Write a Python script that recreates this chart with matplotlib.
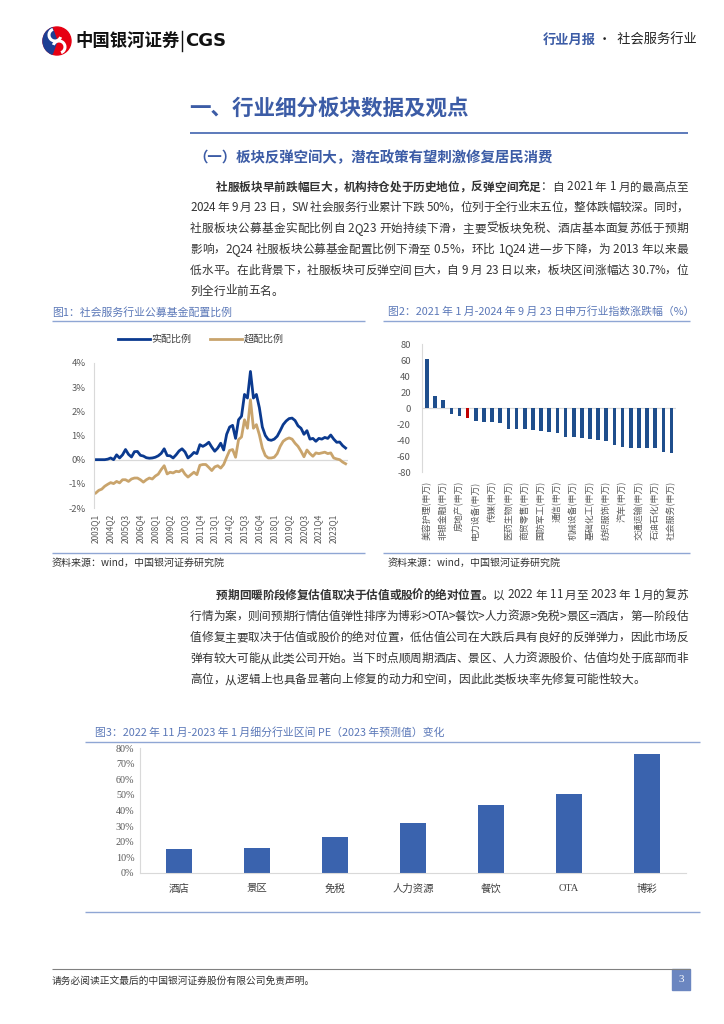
import matplotlib
matplotlib.use("Agg")
import matplotlib.pyplot as plt
from matplotlib.patches import Circle, Wedge, Rectangle, Arc

plt.rcParams['font.family'] = ['Noto Sans CJK SC', 'DejaVu Sans']
plt.rcParams['axes.unicode_minus'] = False

W, H = 724, 1024
BLUE = '#3c5ca6'
CAP = '#5b78b8'
RULE = '#8fa6d4'
TXT = '#333333'
GRAY_AX = '#d9d9d9'
TICK = '#595959'
CJK = ['Noto Sans CJK SC', 'DejaVu Sans']

# ---------- données ----------
# Figure 1 : ratios trimestriels 2003Q1 -> 2024Q1 (%)
shipei = [0.0, 0.0, 0.0, 0.0, 0.02, 0.07, 0.0, 0.2, 0.07, 0.2,
          0.42, 0.22, 0.11, 0.33, 0.34, 0.18, 0.15, 0.08, 0.06, 0.07,
          0.1, 0.16, 0.26, 0.45, 0.17, 0.16, 0.07, 0.2, 0.36, 0.45,
          0.32, 0.07, 0.17, 0.30, 0.25, 0.62, 0.55, 0.62, 0.72, 0.52,
          0.35, 0.48, 0.68, 0.40, 1.05, 1.35, 1.42, 0.88, 1.65, 1.80,
          2.70, 2.55, 3.65, 2.55, 2.70, 2.15, 1.35, 1.0, 0.83, 0.80,
          0.85, 0.97, 1.2, 1.45, 1.6, 1.7, 1.72, 1.62, 1.4, 1.3,
          1.05, 1.2, 0.85, 0.88, 0.76, 0.88, 0.85, 0.92, 0.88, 1.02,
          0.85, 0.72, 0.73, 0.58, 0.48]
chaopei = [-1.38, -1.27, -1.22, -1.1, -1.02, -0.95, -0.99, -0.9, -0.96, -0.83,
           -0.83, -0.9, -0.8, -0.76, -0.76, -0.83, -0.93, -0.83, -0.76, -0.8,
           -0.68, -0.6, -0.41, -0.25, -0.59, -0.52, -0.55, -0.48, -0.5, -0.41,
           -0.6, -0.72, -0.62, -0.52, -0.62, -0.23, -0.2, -0.2, -0.32, -0.45,
           -0.3, -0.25, -0.35, -0.2, 0.1, 0.38, 0.42, 0.1, 0.83, 0.94,
           1.65, 1.3, 2.48, 1.3, 1.45, 1.03, 0.48, 0.17, 0.07, 0.07,
           0.1, 0.25, 0.55, 0.76, 0.85, 0.9, 0.85, 0.68, 0.55, 0.35,
           0.12, 0.4, 0.25, 0.14, 0.28, 0.25, 0.28, 0.31, 0.25, 0.28,
           0.07, 0.03, 0.0, -0.1, -0.17]
quarter_labels = ["2003Q1", "2004Q2", "2005Q3", "2006Q4", "2008Q1", "2009Q2",
                  "2010Q3", "2011Q4", "2013Q1", "2014Q2", "2015Q3", "2016Q4",
                  "2018Q1", "2019Q2", "2020Q3", "2021Q4", "2023Q1"]

# Figure 2 : variation des indices SW (%)
industries = ["美容护理(申万)", "煤炭(申万)", "非银金融(申万)", "银行(申万)",
              "房地产(申万)", "有色金属(申万)", "电力设备(申万)", "公用事业(申万)",
              "传媒(申万)", "计算机(申万)", "医药生物(申万)", "电子(申万)",
              "商贸零售(申万)", "建筑装饰(申万)", "国防军工(申万)", "家用电器(申万)",
              "通信(申万)", "食品饮料(申万)", "机械设备(申万)", "钢铁(申万)",
              "基础化工(申万)", "环保(申万)", "纺织服饰(申万)", "轻工制造(申万)",
              "汽车(申万)", "农林牧渔(申万)", "交通运输(申万)", "建筑材料(申万)",
              "石油石化(申万)", "综合(申万)", "社会服务(申万)"]
zhangdiefu = [61, 14.5, 10.4, -7.5, -9.5, -12.4, -16.6, -17.8, -17.8, -18.7,
              -25.7, -26.1, -26.6, -27, -29, -30, -31.5, -35.7, -35.7, -37.8,
              -39, -40, -40.7, -46.5, -48.5, -49.8, -50.2, -50.2, -50.2, -54.8, -56]
highlight_idx = 5

# Figure 3 : variation du PE
secteurs = ["酒店", "景区", "免税", "人力资源", "餐饮", "OTA", "博彩"]
pe_change = [0.154, 0.159, 0.228, 0.322, 0.434, 0.506, 0.764]

# ---------- textes ----------
para1 = [
    [("社服板块早前跌幅巨大，机构持仓处于历史地位，反弹空间充足", True), ("：自 2021 年 1 月的最高点至", False)],
    [("2024 年 9 月 23 日，SW 社会服务行业累计下跌 50%，位列于全行业末五位，整体跌幅较深。同时，", False)],
    [("社服板块公募基金实配比例自 2Q23 开始持续下滑，主要受板块免税、酒店基本面复苏低于预期", False)],
    [("影响，2Q24 社服板块公募基金配置比例下滑至 0.5%，环比 1Q24 进一步下降，为 2013 年以来最", False)],
    [("低水平。在此背景下，社服板块可反弹空间巨大，自 9 月 23 日以来，板块区间涨幅达 30.7%，位", False)],
    [("列全行业前五名。", False)],
]
para2 = [
    [("预期回暖阶段修复估值取决于估值或股价的绝对位置。", True), ("以 2022 年 11 月至 2023 年 1 月的复苏", False)],
    [("行情为案，则间预期行情估值弹性排序为博彩>OTA>餐饮>人力资源>免税>景区=酒店，第一阶段估", False)],
    [("值修复主要取决于估值或股价的绝对位置，低估值公司在大跌后具有良好的反弹弹力，因此市场反", False)],
    [("弹有较大可能从此类公司开始。当下时点顺周期酒店、景区、人力资源股价、估值均处于底部而非", False)],
    [("高位，从逻辑上也具备显著向上修复的动力和空间，因此此类板块率先修复可能性较大。", False)],
]

fig = plt.figure(figsize=(W / 100, H / 100), dpi=100)
bg = fig.add_axes([0, 0, 1, 1])
bg.set_xlim(0, W)
bg.set_ylim(H, 0)
bg.axis('off')


def ax_at(x0, y0, x1, y1):
    return fig.add_axes([x0 / W, 1 - y1 / H, (x1 - x0) / W, (y1 - y0) / H])


def char_em(ch):
    o = ord(ch)
    if o >= 0x2E80:
        return 1.0
    table = {' ': 0.25, '%': 0.88, '.': 0.27, '-': 0.35, '>': 0.55, '=': 0.55,
             'W': 0.86, 'Q': 0.68, 'O': 0.68, 'S': 0.55, 'T': 0.55, 'A': 0.6}
    return table.get(ch, 0.55)


def draw_line(segs, x0, x1, y, size, justify=True, color=TXT):
    # placement caractère par caractère pour imiter le texte justifié
    chars = [(ch, b) for s, b in segs for ch in s]
    px = size * 100 / 72
    widths = [char_em(ch) * px for ch, b in chars]
    gap = 0
    if justify:
        gap = (x1 - x0 - sum(widths)) / (len(chars) - 1)
    x = x0
    for (ch, b), w in zip(chars, widths):
        if ch != ' ':
            bg.text(x, y, ch, family=CJK, size=size, weight='bold' if b else 'normal',
                    color=color, va='center', ha='left')
        x += w + gap


def hline(y, x0, x1, color=RULE, lw=1.0):
    bg.plot([x0, x1], [y, y], color=color, lw=lw, solid_capstyle='butt')


# ---------- en-tête ----------
bg.add_patch(Circle((57, 41), 14, color='#e60012'))
bg.add_patch(Wedge((57, 41), 14, 110, 250, color='#1d3f94'))
bg.add_patch(Arc((55, 35), 12, 12, theta1=20, theta2=250, color='white', lw=2.2))
bg.add_patch(Arc((59, 47), 12, 12, theta1=200, theta2=430, color='white', lw=2.2))
bg.text(75, 41, "中国银河证券", family=CJK, size=12.5, weight='bold', color='#111111', va='center')
bg.plot([182, 182], [31, 51], color='#111111', lw=1)
bg.text(185, 41, "CGS", family='DejaVu Sans', size=13, weight='bold', color='#111111', va='center')
bg.text(543, 40, "行业月报", family=CJK, size=9.5, weight='bold', color=BLUE, va='center')
bg.text(598, 40, "·  社会服务行业", family=CJK, size=9.5, color='#222222', va='center')

# ---------- titres ----------
bg.text(189, 108, "一、行业细分板块数据及观点", family=CJK, size=15.5, weight='bold', color=BLUE, va='center')
hline(133, 190, 688, color='#4f6fb5', lw=1.3)
bg.text(193, 158, "（一）板块反弹空间大，潜在政策有望刺激修复居民消费", family=CJK, size=10.4,
        weight='bold', color=BLUE, va='center')

for i, segs in enumerate(para1):
    y = 187 + i * 20.8
    x0 = 216 if i == 0 else 190
    draw_line(segs, x0, 688, y, 8.4, justify=(i < len(para1) - 1))

for i, segs in enumerate(para2):
    y = 595 + i * 21.2
    x0 = 216 if i == 0 else 190
    draw_line(segs, x0, 688, y, 8.4, justify=(i < len(para2) - 1))

# ---------- Figure 1 ----------
bg.text(52, 312, "图1：社会服务行业公募基金配置比例", family=CJK, size=7.8, color=CAP, va='center')
hline(321, 52, 365)
hline(553, 52, 365)
bg.text(52, 563, "资料来源：wind，中国银河证券研究院", family=CJK, size=7.2, style='italic',
        color='#333333', va='center')

ax1 = ax_at(94, 363, 348, 508)
xs = list(range(len(shipei)))
ax1.plot(xs, shipei, color='#0b3a8f', lw=2.0, label='实配比例')
ax1.plot(xs, chaopei, color='#c9a46c', lw=2.0, label='超配比例')
ax1.axhline(0, color=GRAY_AX, lw=0.9, zorder=0)
ax1.set_xlim(-0.6, 84.8)
ax1.set_ylim(-2, 4)
ax1.set_yticks(range(-2, 5))
ax1.set_yticklabels([f"{v}%" for v in range(-2, 5)])
ax1.set_xticks(range(0, 81, 5))
ax1.set_xticklabels(quarter_labels, rotation=90)
ax1.tick_params(axis='y', length=0, labelsize=6.8, labelcolor=TICK, pad=6)
ax1.tick_params(axis='x', length=0, labelsize=6.0, labelcolor=TICK, pad=4)
for s in ['top', 'right', 'bottom']:
    ax1.spines[s].set_visible(False)
ax1.spines['left'].set_color(GRAY_AX)
ax1.patch.set_alpha(0)
ax1.legend(ncol=2, loc='center', bbox_to_anchor=(0.42, 1.165), frameon=False,
           fontsize=7.2, handlelength=3.2, columnspacing=1.8, handletextpad=0.2,
           labelcolor='#404040')

# ---------- Figure 2 ----------
bg.text(388, 312, "图2：2021 年 1 月-2024 年 9 月 23 日申万行业指数涨跌幅（%）", family=CJK,
        size=7.8, color=CAP, va='center')
hline(321, 383, 690)
hline(553, 383, 690)
bg.text(388, 563, "资料来源：wind，中国银河证券研究院", family=CJK, size=7.2, style='italic',
        color='#333333', va='center')

ax2 = ax_at(422, 344, 676, 472)
colors2 = ['#c00000' if i == highlight_idx else '#1f4e8c' for i in range(len(zhangdiefu))]
ax2.bar(range(len(zhangdiefu)), zhangdiefu, width=0.45, color=colors2)
ax2.axhline(0, color=GRAY_AX, lw=0.9, zorder=0)
ax2.set_xlim(-0.6, 30.55)
ax2.set_ylim(-80, 80)
ax2.set_yticks(range(-80, 81, 20))
ax2.set_xticks(range(0, len(industries), 2))
ax2.set_xticklabels(industries[::2], rotation=90)
ax2.tick_params(axis='y', length=0, labelsize=6.8, labelcolor=TICK, pad=8)
ax2.tick_params(axis='x', length=0, labelsize=6.4, labelcolor=TICK, pad=6)
for s in ['top', 'right', 'bottom']:
    ax2.spines[s].set_visible(False)
ax2.spines['left'].set_color(GRAY_AX)
ax2.patch.set_alpha(0)

# ---------- Figure 3 ----------
bg.text(95, 732, "图3：2022 年 11 月-2023 年 1 月细分行业区间 PE（2023 年预测值）变化", family=CJK,
        size=7.8, color=CAP, va='center')
hline(742, 85, 700)
hline(912, 85, 700)

ax3 = ax_at(140, 748, 686, 873)
ax3.bar(range(len(secteurs)), pe_change, width=0.33, color='#3a63ae')
ax3.set_xlim(-0.5, len(secteurs) - 0.5)
ax3.set_ylim(0, 0.8)
ax3.set_yticks([i / 10 for i in range(9)])
ax3.set_yticklabels([f"{i * 10}%" for i in range(9)], family=['Liberation Serif'] + CJK)
ax3.set_xticks(range(len(secteurs)))
ax3.set_xticklabels(secteurs, family=['Liberation Serif'] + CJK)
ax3.tick_params(axis='y', length=0, labelsize=7.3, labelcolor=TICK, pad=4)
ax3.tick_params(axis='x', length=0, labelsize=7.5, labelcolor='#404040', pad=8)
for s in ['top', 'right']:
    ax3.spines[s].set_visible(False)
ax3.spines['left'].set_color(GRAY_AX)
ax3.spines['bottom'].set_color(GRAY_AX)
ax3.patch.set_alpha(0)

# ---------- pied de page ----------
hline(969, 52, 690, color='#808080', lw=0.8)
bg.text(52, 981, "请务必阅读正文最后的中国银河证券股份有限公司免责声明。", family=CJK, size=7,
        color='#333333', va='center')
bg.add_patch(Rectangle((672, 969), 18, 21, color='#6b86c0'))
bg.text(681, 980, "3", family='Liberation Serif', size=8, color='white', ha='center', va='center')

fig.savefig("out.png", dpi=100)
